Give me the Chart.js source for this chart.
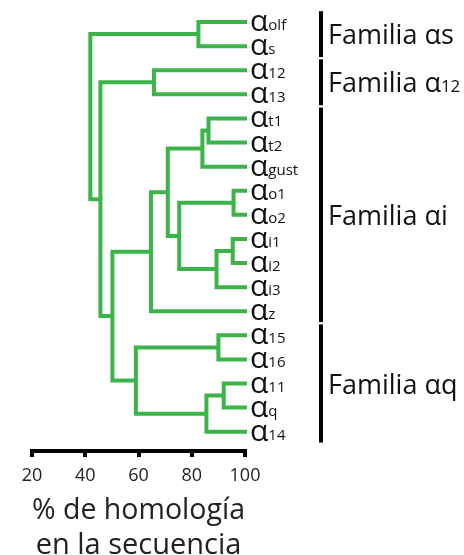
<!DOCTYPE html>
<html>
<head>
<meta charset="utf-8">
<script src="https://cdn.jsdelivr.net/npm/chart.js@4.4.1/dist/chart.umd.min.js"></script>
<style>
html,body{margin:0;padding:0;background:#fff;}
#wrap{width:464px;height:555px;position:relative;}
</style>
</head>
<body>
<div id="wrap"><canvas id="c" width="464" height="555"></canvas></div>
<script>
// Leaves (top to bottom): subscript after the alpha
const leafLabels = ['olf','s','12','13','t1','t2','gust','o1','o2','i1','i2','i3','z','15','16','11','q','14'];
// Merges: node index 18+k joins mergeLeft[k] and mergeRight[k] at mergeHeight[k] (% homology)
const mergeLeft   = [0, 2, 4, 20, 7, 9, 23, 22, 21, 26, 13, 15, 29, 28, 27, 19, 18];
const mergeRight  = [1, 3, 5, 6, 8, 10, 11, 24, 25, 12, 14, 16, 17, 30, 31, 32, 33];
const mergeHeight = [82.5, 65.8, 86.3, 84, 95.7, 95.4, 89.3, 75.3, 71, 64.7, 90, 92, 85.5, 59, 50.2, 45.7, 41.9];
const xTicks = [20, 40, 60, 80, 100];
const familyPrefix = 'Familia \u03B1';
const familySuffix = ['s', '12', 'i', 'q'];
const familyFirst = [0, 2, 4, 13];
const familyLast  = [1, 3, 12, 17];

const FONT = '"Open Sans"';
const GREEN = '#3bb44a';

// Build node positions and elbow paths
const nodes = leafLabels.map((l, i) => ({x: 100, y: i}));
const pts = [];
for (let k = 0; k < mergeHeight.length; k++) {
  const a = nodes[mergeLeft[k]], b = nodes[mergeRight[k]], h = mergeHeight[k];
  nodes.push({x: h, y: (a.y + b.y) / 2});
  pts.push({x: a.x, y: a.y}, {x: h, y: a.y}, {x: h, y: b.y}, {x: b.x, y: b.y}, {x: null, y: null});
}

const labelPlugin = {
  id: 'labels',
  afterDraw(chart) {
    const ctx = chart.ctx, xs = chart.scales.x, ys = chart.scales.y;
    const right = xs.getPixelForValue(100);
    ctx.save();
    ctx.textAlign = 'left';
    ctx.textBaseline = 'alphabetic';
    leafLabels.forEach((lab, i) => {
      const y = ys.getPixelForValue(i);
      ctx.fillStyle = '#111';
      ctx.font = '30px ' + FONT;
      const ax = right + 5;
      ctx.fillText('\u03B1', ax, y + 9);
      const w = ctx.measureText('\u03B1').width;
      ctx.font = '15px ' + FONT;
      ctx.fillText(lab, ax + w, y + 8);
    });
    const bx = right + 76;
    familySuffix.forEach((suf, f) => {
      const y0 = ys.getPixelForValue(familyFirst[f] - 0.45);
      const y1 = ys.getPixelForValue(familyLast[f] + 0.45);
      ctx.fillStyle = '#000';
      ctx.fillRect(bx - 2, y0, 4, y1 - y0);
      ctx.fillStyle = '#111';
      const base = (y0 + y1) / 2 + 10;
      const tx = bx + 7;
      ctx.font = '27px ' + FONT;
      ctx.fillText(familyPrefix, tx, base);
      const w = ctx.measureText(familyPrefix).width;
      ctx.font = (/^\d+$/.test(suf) ? '17px ' : '27px ') + FONT;
      ctx.fillText(suf, tx + w, base);
    });
    ctx.restore();
  }
};

new Chart(document.getElementById('c'), {
  type: 'line',
  data: {
    datasets: [{
      data: pts,
      borderColor: GREEN,
      borderWidth: 4,
      pointRadius: 0,
      spanGaps: false,
      fill: false,
      tension: 0,
      clip: false,
      borderJoinStyle: 'miter',
      borderCapStyle: 'square'
    }]
  },
  options: {
    responsive: false,
    animation: false,
    events: [],
    layout: {padding: {left: 32, right: 219, top: 10, bottom: -8}},
    plugins: {legend: {display: false}, tooltip: {enabled: false}},
    scales: {
      x: {
        type: 'linear', min: 20, max: 100,
        afterBuildTicks(ax) { ax.ticks = xTicks.map(v => ({value: v})); },
        afterFit(ax) { ax.height = 112; },
        border: {display: true, color: '#000', width: 4},
        grid: {drawOnChartArea: false, drawTicks: true, tickLength: 6, color: '#000', lineWidth: 4},
        ticks: {color: '#222', font: {family: FONT, size: 18}, padding: 8, maxRotation: 0},
        title: {display: true, text: ['% de homología', 'en la secuencia'], color: '#222',
                font: {family: FONT, size: 29, lineHeight: 1.2}, padding: {top: 7, bottom: 0}}
      },
      y: {
        type: 'linear', reverse: true, min: -0.5, max: 17.8, display: false
      }
    }
  },
  plugins: [labelPlugin]
});
</script>
</body>
</html>
